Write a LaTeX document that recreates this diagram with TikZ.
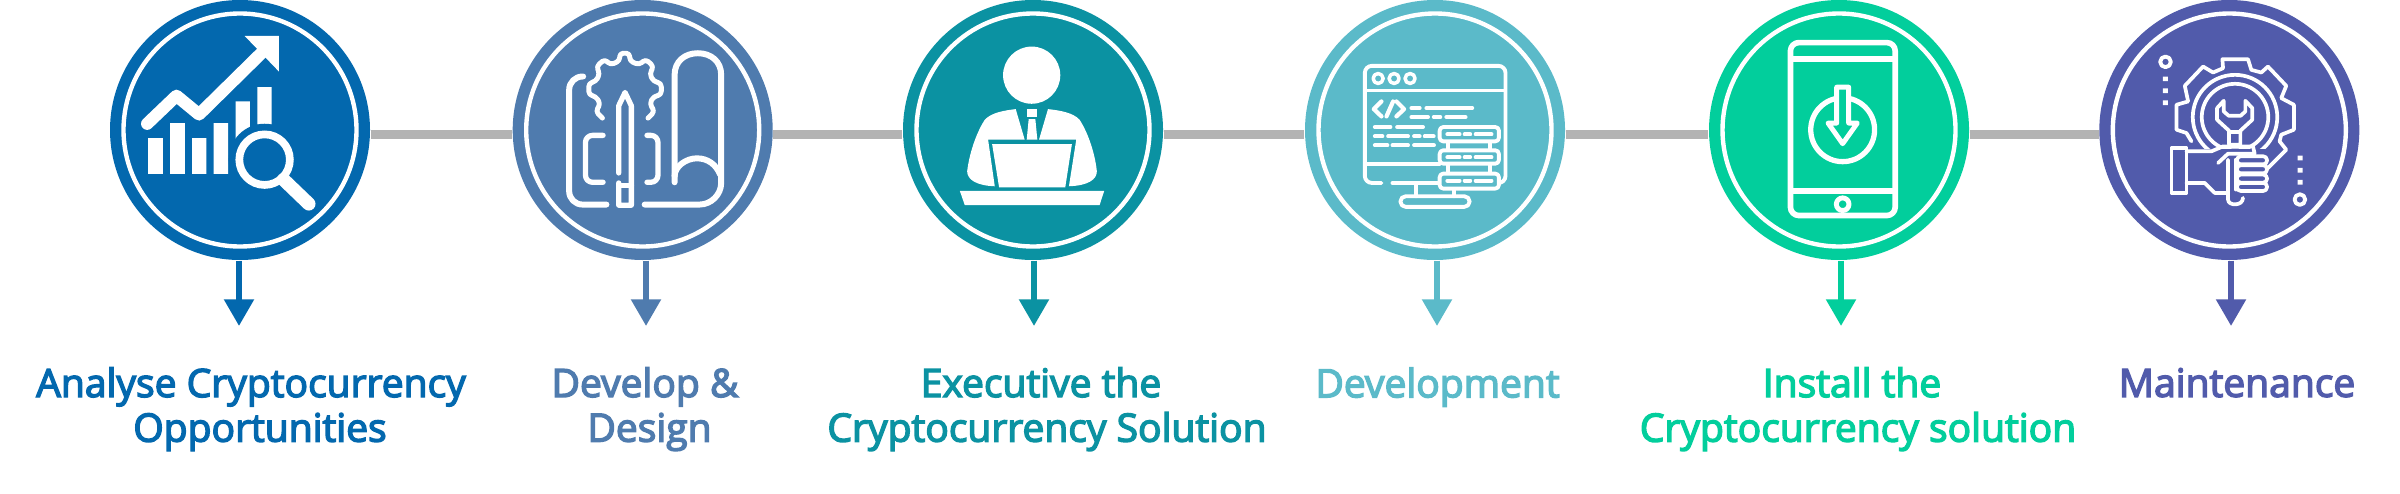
\documentclass[tikz,border=0pt]{standalone}
\usepackage{fontspec}
\setmainfont{Open Sans}
\usetikzlibrary{arrows.meta}
\definecolor{cana}{HTML}{0368AE}
\definecolor{cdev}{HTML}{4F7BAE}
\definecolor{cexe}{HTML}{0B92A2}
\definecolor{cbld}{HTML}{5BBAC9}
\definecolor{cins}{HTML}{02CE9C}
\definecolor{cmnt}{HTML}{515BAB}
\definecolor{cbar}{HTML}{B3B3B3}
\newcommand{\semiweight}{\special{pdf:code 2 Tr 0.4 w}}
\tikzstyle{stage} = [circle, minimum size=2.6cm, inner sep=0pt, path picture={\draw[white,line width=1.25pt] (path picture bounding box.center) circle (1.165cm);}]
\tikzstyle{bar} = [line width=2.4pt,cbar]
\tikzstyle{arrow} = [line width=1.7pt,-{Triangle[length=7.6pt,width=8.2pt]}]
\tikzstyle{caption} = [align=center,font=\fontsize{11.1}{12.7}\selectfont\semiweight,text depth=0pt]
\tikzstyle{icon} = [x=0.00333cm,y=-0.00333cm]
\tikzstyle{ink} = [white,line cap=round,line join=round]
\begin{document}
\begin{tikzpicture}[node distance=4cm]
\useasboundingbox (0,0) rectangle (24,4.93);

\node (ana) [stage, fill=cana] at (2.40,3.63) {};
\node (dev) [stage, fill=cdev, right of=ana, xshift=0.027cm] {};
\node (exe) [stage, fill=cexe, right of=dev, xshift=-0.097cm] {};
\node (bld) [stage, fill=cbld, right of=exe, xshift=0.02cm] {};
\node (ins) [stage, fill=cins, right of=bld, xshift=0.04cm] {};
\node (mnt) [stage, fill=cmnt, right of=ins, xshift=-0.097cm] {};

\draw [bar] ([yshift=-0.045cm]ana.east) -- ([yshift=-0.045cm]dev.west);
\draw [bar] ([yshift=-0.045cm]dev.east) -- ([yshift=-0.045cm]exe.west);
\draw [bar] ([yshift=-0.045cm]exe.east) -- ([yshift=-0.045cm]bld.west);
\draw [bar] ([yshift=-0.045cm]bld.east) -- ([yshift=-0.045cm]ins.west);
\draw [bar] ([yshift=-0.045cm]ins.east) -- ([yshift=-0.045cm]mnt.west);

\coordinate (tip1) at (2.39,1.67);
\coordinate (tip2) at (6.46,1.67);
\coordinate (tip3) at (10.34,1.67);
\coordinate (tip4) at (14.37,1.67);
\coordinate (tip5) at (18.41,1.67);
\coordinate (tip6) at (22.31,1.67);
\draw [arrow,cana] (ana.south -| tip1) -- (tip1);
\draw [arrow,cdev] (dev.south -| tip2) -- (tip2);
\draw [arrow,cexe] (exe.south -| tip3) -- (tip3);
\draw [arrow,cbld] (bld.south -| tip4) -- (tip4);
\draw [arrow,cins] (ins.south -| tip5) -- (tip5);
\draw [arrow,cmnt] (mnt.south -| tip6) -- (tip6);

\node (lab1) [caption, cana] at (2.51,0.885) {Analyse Cryptocurrency\\\hspace*{0.18cm}Opportunities};
\node (lab2) [caption, cdev] at (6.45,0.885) {Develop \&\\\hspace*{0.09cm}Design};
\node (lab3) [caption, cexe] at (10.47,0.885) {Executive the\hspace*{0.12cm}\\Cryptocurrency Solution};
\node (lab4) [caption, cbld] at (14.375,1.105) {Development};
\node (lab5) [caption, cins] at (18.58,0.885) {Install the\hspace*{0.12cm}\\Cryptocurrency solution};
\node (lab6) [caption, cmnt] at (22.37,1.105) {Maintenance};

% chart
\begin{scope}[shift={(0.8,4.93)},icon]
\fill[white] (205,415) rectangle (249,523) (271,370) rectangle (315,523) (337,415) rectangle (380,523) (402,370) rectangle (445,523) (468,305) rectangle (511,420) (533,262) rectangle (576,375);
\draw[ink,line width=3.5pt] (202,372) -- (290,288) -- (358,344) -- (545,160);
\fill[white] (495,108) -- (598,108) -- (598,215) -- cycle;
\fill[cana] (555,480) circle (108);
\draw[white,line width=2.2pt] (555,480) circle (76);
\draw[ink,line width=3.8pt] (612,540) -- (688,613);
\end{scope}

% drawing
\begin{scope}[shift={(4.9,4.93)},icon]
\draw[ink,line width=1.7pt,rounded corners=3.8pt] (280,230) -- (238,230) -- (238,615) -- (350,615);
\draw[ink,line width=1.7pt] (465,615) -- (630,615) .. controls (665,615) and (695,585) .. (695,550) -- (695,225) .. controls (695,185) and (665,160) .. (625,160) .. controls (585,160) and (555,185) .. (555,225) -- (555,548);
\draw[ink,line width=1.7pt] (555,530) .. controls (555,500) and (590,476) .. (622,476) .. controls (655,476) and (680,495) .. (692,525);
\draw[ink,line width=1.5pt,rounded corners=2pt] (340,407) -- (287,407) -- (287,548) -- (340,548);
\draw[ink,line width=1.5pt,rounded corners=2pt] (472,407) -- (505,407) -- (505,548) -- (472,548);
\draw[ink,line width=1.5pt] (387,520) -- (387,318) -- (406,278) -- (425,318) -- (425,617) -- (387,617) -- (387,550);
\draw[ink,line width=1.5pt] (387,558) -- (425,558);
\draw[ink,line width=1.4pt,rounded corners=1pt] (338,355) -- (318,335) -- (332,312) -- (318,290) -- (297,285) -- (297,250) -- (318,245) -- (330,222) -- (320,200) -- (345,178) -- (362,195) -- (390,183) -- (390,160) -- (420,160) -- (420,183) -- (448,195) -- (468,178) -- (492,200) -- (480,222) -- (492,245) -- (515,250) -- (515,285) -- (492,290) -- (480,312) -- (495,335) -- (475,355);
\end{scope}

% person
\begin{scope}[shift={(8.8,4.93)},icon]
\fill[white] (456,226) circle (86);
\fill[white] (408,328) -- (435,420) -- (325,420) -- (345,560) .. controls (290,558) and (262,540) .. (262,515) .. controls (270,450) and (295,390) .. (315,360) .. controls (335,338) and (375,332) .. (408,328) -- cycle;
\fill[white] (505,328) -- (478,420) -- (590,420) -- (568,560) .. controls (625,558) and (652,540) .. (652,515) .. controls (645,450) and (620,390) .. (600,360) .. controls (580,338) and (540,332) .. (505,328) -- cycle;
\fill[white] (443,327) rectangle (471,352);
\fill[white] (447,358) -- (467,358) -- (473,420) -- (441,420) -- cycle;
\fill[white] (337,433) -- (577,433) -- (557,563) -- (358,563) -- cycle;
\fill[white] (240,574) -- (674,574) -- (660,617) -- (255,617) -- cycle;
\end{scope}

% code window
\begin{scope}[shift={(12.8,4.93)},icon]
\draw[ink,line width=1.1pt,rounded corners=2pt] (305,550) -- (255,550) -- (255,198) -- (678,198) -- (678,550) -- (655,550);
\draw[ink,line width=1.1pt] (338,550) -- (480,550) (258,272) -- (675,272) (258,492) -- (480,492);
\draw[ink,line width=1pt] (295,236) circle (15) (343,236) circle (15) (391,236) circle (15);
\draw[ink,line width=1.2pt] (305,305) -- (282,328) -- (305,350) (340,305) -- (320,350) (350,305) -- (373,328) -- (350,350);
\draw[ink,line width=1.1pt] (395,325) -- (420,325) (440,325) -- (578,325) (395,352) -- (445,352) (462,352) -- (482,352) (500,352) -- (558,352) (285,382) -- (332,382) (352,382) -- (430,382) (285,410) -- (308,410) (325,410) -- (385,410) (403,410) -- (420,410) (435,410) -- (462,410) (285,437) -- (323,437) (338,437) -- (385,437) (403,437) -- (463,437);
\draw[ink,line width=1.1pt] (505,425) -- (505,452) (632,425) -- (632,452) (505,492) -- (505,522) (632,492) -- (632,522) (408,550) -- (408,590) (524,567) -- (524,590);
\foreach \y/\h in {382/425,452/492,522/567}
  \draw[ink,line width=1.1pt,fill=cbld,rounded corners=1pt] (480,\y) rectangle (658,\h);
\foreach \y in {404,473,543}
  \draw[ink,line width=1.1pt] (503,\y) -- (540,\y) (555,\y) -- (572,\y) (588,\y) -- (636,\y);
\draw[ink,line width=1.1pt,rounded corners=1.5pt] (362,590) rectangle (570,622);
\end{scope}

% phone
\begin{scope}[shift={(16.8,4.93)},icon]
\draw[ink,line width=1.6pt,rounded corners=2.4pt] (332,128) rectangle (647,648);
\draw[ink,line width=1.6pt] (340,177) -- (640,177) (340,575) -- (640,575);
\draw[ink,line width=1.4pt] (489,614) circle (19);
\draw[ink,line width=1.5pt] (489,390) circle (96);
\draw[ink,line width=1.4pt,fill=cins] (471,262) -- (507,262) -- (507,370) -- (533,370) -- (489,432) -- (445,370) -- (471,370) -- cycle;
\end{scope}

% wrench
\begin{scope}[shift={(20.8,4.93)},icon]
\draw[ink,line width=1.1pt] (257,186) circle (16) (661,600) circle (16);
\fill[white] (249,230) rectangle (264,244) (249,266) rectangle (264,280) (249,302) rectangle (264,316) (654,468) rectangle (669,482) (654,505) rectangle (669,519) (654,541) rectangle (669,555);
\draw[ink,line width=1.05pt] (335,425) -- (320,400) -- (290,390) -- (290,315) -- (325,305) -- (315,258) -- (370,200) -- (400,218) -- (430,205) -- (428,178) -- (505,178) -- (515,210) -- (545,218) -- (565,200) -- (620,258) -- (605,295) -- (643,315) -- (643,390) -- (605,405) -- (600,425) -- (620,450) -- (565,505);
\draw[ink,line width=1.05pt] (466,352) circle (127) (466,352) circle (100);
\fill[cmnt] (325,448) rectangle (560,600);
\draw[ink,line width=1.05pt,fill=cmnt] (432,303) -- (412,325) -- (412,360) -- (448,393) -- (448,435) -- (482,435) -- (482,393) -- (518,360) -- (518,325) -- (497,303) -- (497,335) -- (483,348) -- (447,348) -- (432,335) -- cycle;
\draw[ink,line width=1.05pt] (448,397) -- (482,397);
\draw[ink,line width=1.05pt] (275,445) rectangle (320,580);
\draw[ink,line width=1.05pt] (320,455) -- (395,455) -- (430,440) -- (520,440) -- (525,462) -- (445,462) -- (415,490);
\draw[ink,line width=1.05pt] (320,550) -- (375,550) -- (405,580) -- (445,580);
\draw[ink,line width=1.05pt] (445,480) -- (445,600) .. controls (445,620) and (490,620) .. (490,595);
\draw[ink,line width=1.05pt] (468,480) -- (468,570);
\foreach \y in {470,497,525,550}
  \draw[ink,line width=1.05pt,fill=cmnt,rounded corners=1pt] (472,\y) rectangle (562,\y+24);
\end{scope}

\end{tikzpicture}
\end{document}
